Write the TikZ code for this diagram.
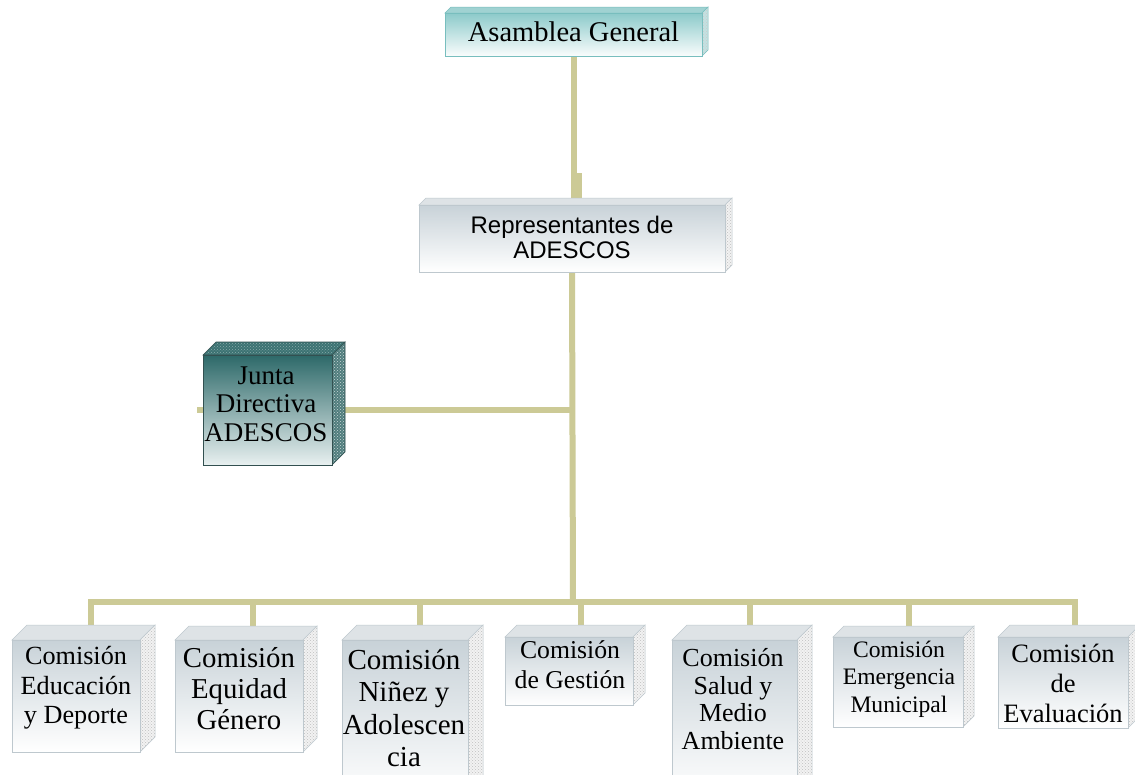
\documentclass[tikz,border=0pt]{standalone}
\usepackage{fontspec}
\setmainfont{Liberation Serif}
\newfontfamily\arialf{Liberation Sans}
\usetikzlibrary{patterns,calc}
\definecolor{conncol}{RGB}{204,202,150}
\definecolor{cGtop}{RGB}{200,210,216}
\definecolor{cGborder}{RGB}{190,200,206}
\definecolor{cGtopface}{RGB}{222,227,230}
\definecolor{cTtop}{RGB}{140,202,202}
\definecolor{cTborder}{RGB}{120,190,190}
\definecolor{cTtopface}{RGB}{160,210,210}
\definecolor{cTside}{RGB}{195,225,225}
\definecolor{cDtop}{RGB}{45,105,105}
\definecolor{cDbottom}{RGB}{232,240,240}
\definecolor{cDborder}{RGB}{50,80,80}
\definecolor{cDtopface}{RGB}{60,115,115}
\definecolor{cDside}{RGB}{80,125,125}
\pgfdeclarelayer{bg}
\pgfsetlayers{bg,main}
\newcommand{\cubebox}[7]{%
  \path[#7topf] (#2,#3) -- ++(#6,-#6) -- ({#4+#6},{#3-#6}) -- (#4,#3) -- cycle;
  \path[#7side] (#4,#3) -- ({#4+#6},{#3-#6}) -- ({#4+#6},{#5-#6}) -- (#4,#5) -- cycle;
  \node[#7face, minimum width={(#4-#2)*1pt}, minimum height={(#5-#3)*1pt}] (#1) at ({(#2+#4)/2},{(#3+#5)/2}) {};
  \coordinate (#1-back) at ({(#2+#4)/2+#6},{#3-#6+2});
}
\tikzset{
  conn/.style={draw=conncol, line width=6pt},
  gface/.style={draw=cGborder, line width=0.8pt, top color=cGtop, bottom color=white, inner sep=0pt},
  gtopf/.style={fill=cGtopface, draw=cGborder, line width=0.5pt},
  gside/.style={preaction={fill=gray!10}, pattern=crosshatch dots, pattern color=gray!50, draw=cGborder, line width=0.5pt},
  tface/.style={draw=cTborder, line width=0.8pt, top color=cTtop, bottom color=white!95!cTtop, inner sep=0pt},
  ttopf/.style={fill=cTtopface, draw=cTborder, line width=0.5pt},
  tside/.style={preaction={fill=cTside}, pattern=crosshatch dots, pattern color=gray!40, draw=cTborder, line width=0.5pt},
  dface/.style={draw=cDborder, line width=1pt, top color=cDtop, bottom color=cDbottom, inner sep=0pt},
  dtopf/.style={preaction={fill=cDtopface}, pattern=crosshatch dots, pattern color=cDtopface!60!white, draw=cDborder, line width=0.6pt},
  dside/.style={preaction={fill=cDside}, pattern=crosshatch dots, pattern color=white!70!cDside, draw=cDborder, line width=0.6pt},
  txt/.style={align=center, inner sep=0pt, text=black},
}
\begin{document}
\begin{tikzpicture}[x=1pt, y=-1pt]
\useasboundingbox (0,0) rectangle (1135,774);
\clip (0,0) rectangle (1135,774);
% boxes
\cubebox{asam}{445}{13}{702}{56}{6}{t}
\cubebox{rep}{419}{205}{725}{272}{7}{g}
\cubebox{junta}{203}{355}{332}{465}{13}{d}
\cubebox{b1}{12}{640}{140}{752}{15}{g}
\cubebox{b2}{175}{640}{303}{752}{14}{g}
\cubebox{b3}{342}{640}{468}{800}{15}{g}
\cubebox{b4}{505}{637}{633}{705}{12}{g}
\cubebox{b5}{672}{640}{797}{800}{15}{g}
\cubebox{b6}{833}{637}{963}{727}{11}{g}
\cubebox{b7}{998}{637}{1128}{728}{12}{g}
% texts
\node[txt, font=\fontsize{28.5}{30}\selectfont] (asam-t) at (573.5,32) {Asamblea General};
\node[txt, font=\arialf\fontsize{24}{25}\selectfont] (rep-t) at (572,237) {Representantes de\\ADESCOS};
\node[txt, font=\fontsize{27}{28.5}\selectfont] (junta-t) at (266,404) {Junta\\Directiva\\ADESCOS};
\node[txt, font=\fontsize{26.2}{29.5}\selectfont] (b1-t) at (76,688) {Comisión\\Educación\\y Deporte};
\node[txt, font=\fontsize{28.8}{31}\selectfont] (b2-t) at (239,689) {Comisión\\Equidad\\Género};
\node[txt, font=\fontsize{29}{32.5}\selectfont] (b3-t) at (404,708) {Comisión\\Niñez y\\Adolescen\\cia};
\node[txt, font=\fontsize{25.7}{30}\selectfont] (b4-t) at (570,665) {Comisión\\de Gestión};
\node[txt, font=\fontsize{26}{27.5}\selectfont] (b5-t) at (733,699) {Comisión\\Salud y\\Medio\\Ambiente};
\node[txt, font=\fontsize{23.6}{27.5}\selectfont] (b6-t) at (899,679) {Comisión\\Emergencia\\Municipal};
\node[txt, font=\fontsize{26.5}{30}\selectfont] (b7-t) at (1063,683) {Comisión\\de\\Evaluación};
% connectors
\begin{pgfonlayer}{bg}
\fill[white] (0,0) rectangle (1135,774);
\coordinate (bus) at (573,602);
\coordinate (jog) at (579,173);
\draw[conn] (asam.south) -- (asam.south |- rep.north);
\draw[conn] (jog) -- (jog |- rep.north);
\draw[conn] (rep.south) -- (bus);
\draw[conn] (rep.south |- junta) -- ([xshift=-6pt]junta.west);
\draw[conn] (b1-back) |- (bus) -| (b7-back);
\draw[conn] (bus -| b2-back) -- (b2-back);
\draw[conn] (bus -| b3-back) -- (b3-back);
\draw[conn] (bus -| b4-back) -- (b4-back);
\draw[conn] (bus -| b5-back) -- (b5-back);
\draw[conn] (bus -| b6-back) -- (b6-back);
\end{pgfonlayer}
\end{tikzpicture}
\end{document}
